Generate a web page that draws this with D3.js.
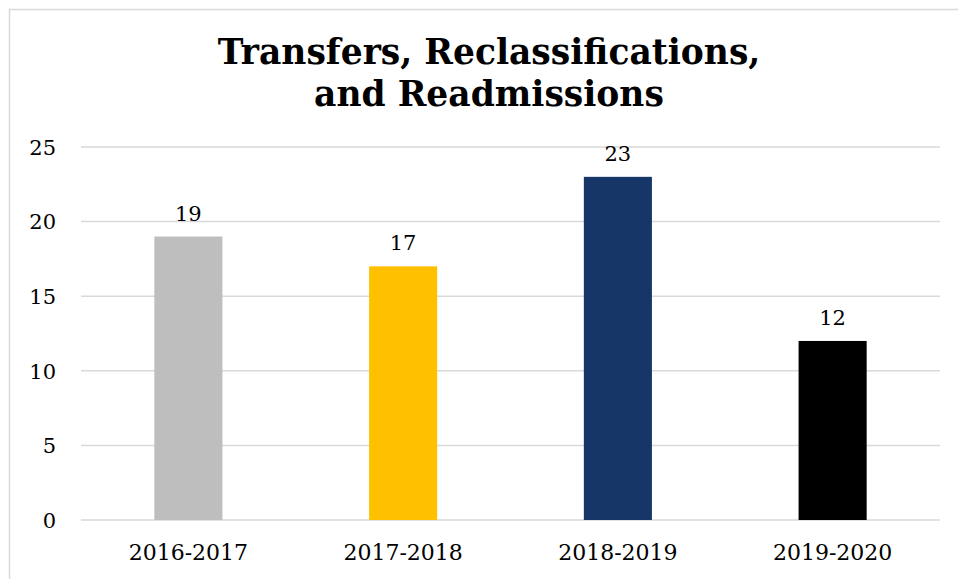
<!DOCTYPE html>
<html>
<head>
<meta charset="utf-8">
<script src="https://cdn.jsdelivr.net/npm/d3@7"></script>
<style>
  html, body { margin: 0; padding: 0; background: #fff; }
  svg { display: block; }
</style>
</head>
<body>
<svg id="chart" width="958" height="579"></svg>
<script>
// School years and counts
const categories = ["2016-2017", "2017-2018", "2018-2019", "2019-2020"];
const values = [19, 17, 23, 12];
const barColors = ["#bfbebf", "#ffc000", "#153666", "#000000"];
const yTicks = [0, 5, 10, 15, 20, 25];
const titleLines = ["Transfers, Reclassifications,", "and Readmissions"];

const fontFamily = "Georgia, 'DejaVu Serif', serif";
const svg = d3.select("#chart");

// Chart area frame
svg.append("rect")
  .attr("x", 9.5).attr("y", 9.5)
  .attr("width", 1000).attr("height", 1000)
  .attr("fill", "#fff")
  .attr("stroke", "#d9d9d9").attr("stroke-width", 1.5);

const plot = { left: 81, right: 940, top: 147, bottom: 520 };

const x = d3.scaleBand()
  .domain(categories)
  .range([plot.left, plot.right])
  .paddingInner(0.683).paddingOuter(0.3415);

const y = d3.scaleLinear()
  .domain([0, 25])
  .range([plot.bottom, plot.top]);

// Title
const title = svg.append("text")
  .attr("text-anchor", "middle")
  .attr("font-family", fontFamily)
  .attr("font-weight", "bold")
  .attr("font-size", 34.5)
  .attr("fill", "#000");
titleLines.forEach((line, i) => {
  title.append("tspan")
    .attr("x", 489)
    .attr("y", 64 + i * 42)
    .text(line);
});

// Horizontal gridlines
svg.append("g")
  .selectAll("line")
  .data(yTicks)
  .join("line")
  .attr("x1", plot.left).attr("x2", plot.right)
  .attr("y1", d => y(d)).attr("y2", d => y(d))
  .attr("stroke", "#d9d9d9").attr("stroke-width", 1.5);

// Y axis labels
const yAxis = svg.append("g")
  .attr("transform", `translate(${plot.left - 25},0)`)
  .call(d3.axisLeft(y).tickValues(yTicks).tickSize(0).tickPadding(0));
yAxis.select(".domain").remove();
yAxis.selectAll("text")
  .attr("font-family", fontFamily)
  .attr("font-size", 21)
  .attr("fill", "#000")
  .attr("dy", "0.35em");

// X axis labels
const xAxis = svg.append("g")
  .attr("transform", `translate(0,${plot.bottom})`)
  .call(d3.axisBottom(x).tickSize(0).tickPadding(24));
xAxis.select(".domain").remove();
xAxis.selectAll("text")
  .attr("font-family", fontFamily)
  .attr("font-size", 22)
  .attr("fill", "#000");

// Bars
svg.append("g")
  .selectAll("rect")
  .data(categories)
  .join("rect")
  .attr("x", d => x(d))
  .attr("width", x.bandwidth())
  .attr("y", (d, i) => y(values[i]))
  .attr("height", (d, i) => y(0) - y(values[i]))
  .attr("fill", (d, i) => barColors[i]);

// Value labels
svg.append("g")
  .selectAll("text")
  .data(categories)
  .join("text")
  .attr("x", d => x(d) + x.bandwidth() / 2)
  .attr("y", (d, i) => y(values[i]) - 16)
  .attr("text-anchor", "middle")
  .attr("font-family", fontFamily)
  .attr("font-size", 21)
  .attr("fill", "#000")
  .text((d, i) => values[i]);
</script>
</body>
</html>
